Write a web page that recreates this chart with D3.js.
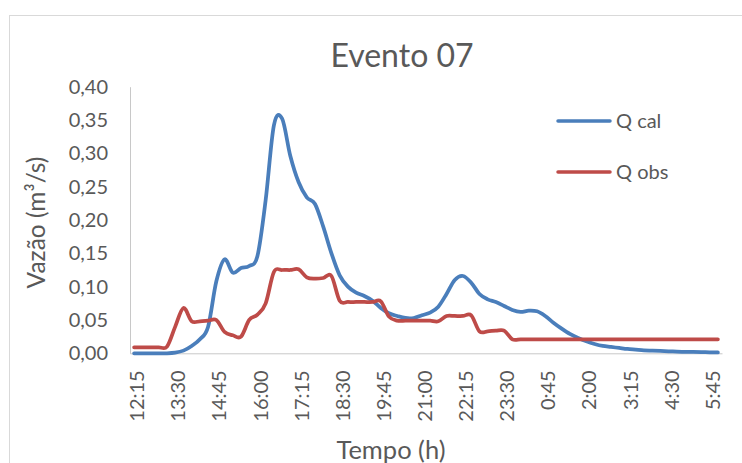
<!DOCTYPE html>
<html>
<head>
<meta charset="utf-8">
<script src="https://cdnjs.cloudflare.com/ajax/libs/d3/7.8.5/d3.min.js"></script>
<style>
  body { margin: 0; background: #fff; }
  text { font-family: Lato, "Open Sans", sans-serif; fill: #595959; }
</style>
</head>
<body>
<div id="chart_container"></div>
<script>
// Data (15 min steps)
var times = ["12:15","12:30","12:45","13:00","13:15","13:30","13:45","14:00","14:15","14:30",
  "14:45","15:00","15:15","15:30","15:45","16:00","16:15","16:30","16:45","17:00",
  "17:15","17:30","17:45","18:00","18:15","18:30","18:45","19:00","19:15","19:30",
  "19:45","20:00","20:15","20:30","20:45","21:00","21:15","21:30","21:45","22:00",
  "22:15","22:30","22:45","23:00","23:15","23:30","23:45","0:00","0:15","0:30",
  "0:45","1:00","1:15","1:30","1:45","2:00","2:15","2:30","2:45","3:00",
  "3:15","3:30","3:45","4:00","4:15","4:30","4:45","5:00","5:15","5:30",
  "5:45","6:00"];

var q_cal = [0, 0, 0, 0, 0, 0.001, 0.004, 0.011, 0.021, 0.040,
  0.108, 0.141, 0.121, 0.128, 0.131, 0.146, 0.230, 0.342, 0.352, 0.296,
  0.257, 0.234, 0.224, 0.190, 0.150, 0.117, 0.100, 0.091, 0.086, 0.079,
  0.068, 0.060, 0.056, 0.053, 0.053, 0.057, 0.061, 0.070, 0.089, 0.110,
  0.116, 0.106, 0.089, 0.081, 0.077, 0.071, 0.065, 0.062, 0.064, 0.063,
  0.056, 0.046, 0.037, 0.029, 0.023, 0.018, 0.014, 0.011, 0.0095, 0.008,
  0.0065, 0.0055, 0.0045, 0.004, 0.0035, 0.003, 0.0025, 0.0022, 0.002, 0.0018,
  0.0015, 0.0013];

var q_obs = [0.009, 0.009, 0.009, 0.009, 0.010, 0.040, 0.068, 0.048, 0.048, 0.049,
  0.050, 0.032, 0.027, 0.025, 0.050, 0.058, 0.075, 0.122, 0.125, 0.125,
  0.126, 0.114, 0.112, 0.113, 0.116, 0.079, 0.077, 0.077, 0.077, 0.077,
  0.078, 0.055, 0.049, 0.049, 0.049, 0.049, 0.049, 0.048, 0.056, 0.056,
  0.056, 0.057, 0.033, 0.033, 0.034, 0.034, 0.021, 0.021, 0.021, 0.021,
  0.021, 0.021, 0.021, 0.021, 0.021, 0.021, 0.021, 0.021, 0.021, 0.021,
  0.021, 0.021, 0.021, 0.021, 0.021, 0.021, 0.021, 0.021, 0.021, 0.021,
  0.021, 0.021];

var x_ticks = ["12:15","13:30","14:45","16:00","17:15","18:30","19:45","21:00",
  "22:15","23:30","0:45","2:00","3:15","4:30","5:45"];
var y_ticks = [0, 0.05, 0.10, 0.15, 0.20, 0.25, 0.30, 0.35, 0.40];

var series = [
  {name: "Q cal", values: q_cal, color: "#4A7EBB"},
  {name: "Q obs", values: q_obs, color: "#BE4B48"}
];

// Chart dimensions
var width = 742
var height = 463
var plot = {left: 130, right: 722, top: 86.7, bottom: 353.3}

var br = d3.formatLocale({decimal: ",", thousands: ".", grouping: [3], currency: ["R$", ""]});
var fmt = br.format(".2f");

// Scales
var x_scale = d3.scalePoint()
    .domain(times)
    .range([plot.left, plot.right])
    .padding(0.5);

var y_scale = d3.scaleLinear()
    .domain([0, 0.4])
    .range([plot.bottom, plot.top]);

var svg = d3.select("#chart_container")
    .append("svg")
    .attr("width", width)
    .attr("height", height)

// Chart border
svg.append("rect")
    .attr("x", 9.5)
    .attr("y", 15.5)
    .attr("width", 800)
    .attr("height", 500)
    .attr("fill", "white")
    .attr("stroke", "#d9d9d9")

// Axes
var y_axis = d3.axisLeft(y_scale)
    .tickValues(y_ticks)
    .tickFormat(fmt)
    .tickSize(0)
    .tickPadding(22);

var gy = svg.append("g")
    .attr("transform", "translate(" + plot.left + ",0)")
    .call(y_axis);
gy.select(".domain").attr("stroke", "#c8c8c8");
gy.selectAll("text")
    .style("font-size", "20px")
    .attr("fill", "#595959");

var x_axis = d3.axisBottom(x_scale)
    .tickValues(x_ticks)
    .tickSize(0)
    .tickSizeOuter(0);

var gx = svg.append("g")
    .attr("transform", "translate(0," + plot.bottom + ")")
    .call(x_axis);
gx.select(".domain").attr("stroke", "#c8c8c8");
gx.selectAll("text")
    .style("font-size", "20px")
    .attr("fill", "#595959")
    .attr("text-anchor", "end")
    .attr("transform", "rotate(-90)")
    .attr("x", -17)
    .attr("y", 0)
    .attr("dy", "0.48em");

// Lines
var line = d3.line()
    .x(function(d, i) { return x_scale(times[i]); })
    .y(function(d) { return y_scale(d); })
    .curve(d3.curveCardinal.tension(0));

svg.append("g")
    .selectAll("path")
    .data(series)
    .enter()
    .append("path")
    .attr("d", function(d) { return line(d.values); })
    .attr("fill", "none")
    .attr("stroke", function(d) { return d.color; })
    .attr("stroke-width", 3.75)
    .attr("stroke-linejoin", "round")
    .attr("stroke-linecap", "round");

// Legend
var legend = svg.append("g")
    .selectAll("g")
    .data(series)
    .enter()
    .append("g")
    .attr("transform", function(d, i) { return "translate(558," + (121 + i * 51) + ")"; });

legend.append("line")
    .attr("x1", 0)
    .attr("x2", 52)
    .attr("stroke", function(d) { return d.color; })
    .attr("stroke-width", 3.5)
    .attr("stroke-linecap", "round");

legend.append("text")
    .attr("x", 58)
    .attr("dy", "0.36em")
    .style("font-size", "20px")
    .text(function(d) { return d.name; });

// Titles
svg.append("text")
    .attr("x", 402)
    .attr("y", 67)
    .style("text-anchor", "middle")
    .style("font-size", "32px")
    .text("Evento 07");

svg.append("text")
    .attr("transform", "translate(36,222.5) rotate(-90)")
    .attr("dy", "0.35em")
    .style("text-anchor", "middle")
    .style("font-size", "24.5px")
    .text("Vazão (m³/s)");

svg.append("text")
    .attr("x", 391)
    .attr("y", 459.3)
    .style("text-anchor", "middle")
    .style("font-size", "25.5px")
    .text("Tempo (h)");
</script>
</body>
</html>
